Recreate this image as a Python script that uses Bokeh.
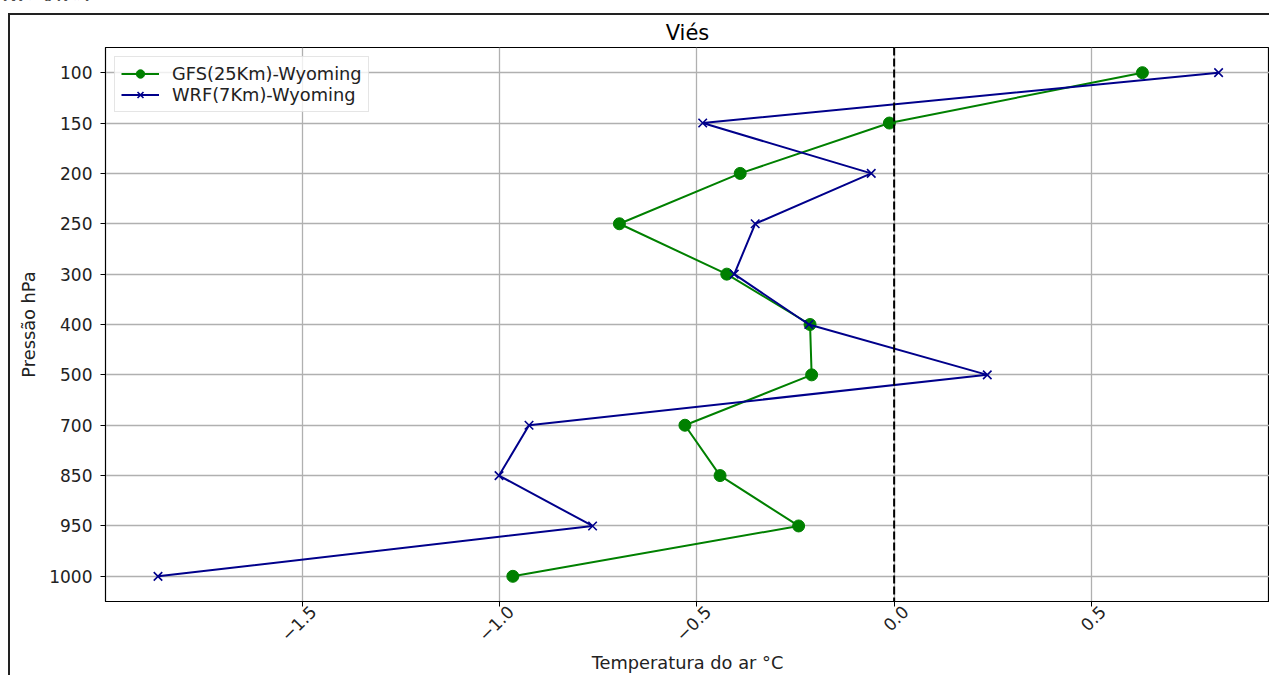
import math
from bokeh.plotting import figure
from bokeh.models import (FactorRange, Range1d, FixedTicker, CustomJSTickFormatter,
                          Span, Legend, LegendItem, LinearAxis, InlineStyleSheet)
from bokeh.embed import file_html
from bokeh.resources import INLINE

# ---- data ----
levels = ["100", "150", "200", "250", "300", "400", "500", "700", "850", "950", "1000"]
gfs_bias = [0.629, -0.012, -0.390, -0.696, -0.424, -0.213, -0.209, -0.530, -0.441, -0.242, -0.966]
wrf_bias = [0.822, -0.485, -0.058, -0.352, -0.405, -0.216, 0.236, -0.925, -1.001, -0.764, -1.865]
x_ticks = [-1.5, -1.0, -0.5, 0.0, 0.5]

suptitle_text = "de Viés"
title_text = "Viés"
x_label = "Temperatura do ar °C"
y_label = "Pressão hPa"
gfs_name = "GFS(25Km)-Wyoming"
wrf_name = "WRF(7Km)-Wyoming"

FONT = "DejaVu Sans"
X0, X1 = -1.998, 0.951
LABEL_SHIFT = 0.028   # centring offset of the rotated tick labels (style only)

p = figure(width=1269, height=675, output_backend="svg", toolbar_location=None,
           x_range=Range1d(X0, X1),
           y_range=FactorRange(factors=list(reversed(levels))),
           min_border_left=105, min_border_right=0, min_border_top=47, min_border_bottom=74)

p.title.text = title_text
p.title.align = "center"
p.title.text_font = FONT
p.title.text_font_size = "21px"
p.title.text_font_style = "normal"
p.title.text_color = "#000000"
p.title.standoff = 5

p.outline_line_color = "#000000"
p.outline_line_width = 1.2
p.background_fill_color = "#ffffff"
p.border_fill_color = "#ffffff"

# grid
for g in (p.xgrid, p.ygrid):
    g.grid_line_color = "#b0b0b0"
    g.grid_line_width = 1.3
p.xgrid.ticker = FixedTicker(ticks=x_ticks)

# primary x axis: tick marks only
xa = p.xaxis[0]
xa.ticker = FixedTicker(ticks=x_ticks)
xa.formatter = CustomJSTickFormatter(code="return '';")
xa.major_label_text_font_size = "0px"
xa.major_label_standoff = 0
xa.minor_tick_line_color = None
xa.axis_line_color = "#000000"
xa.major_tick_line_color = "#000000"
xa.major_tick_in = 0
xa.major_tick_out = 5

# secondary x axis: the rotated labels, centred under the ticks
p.extra_x_ranges = {"lab": Range1d(X0 - LABEL_SHIFT, X1 - LABEL_SHIFT)}
xl = LinearAxis(x_range_name="lab", ticker=FixedTicker(ticks=x_ticks),
                formatter=CustomJSTickFormatter(code="return tick.toFixed(1).replace('-', '\u2212');"))
xl.major_label_orientation = math.pi / 4
xl.axis_line_color = None
xl.major_tick_line_color = None
xl.minor_tick_line_color = None
xl.major_tick_in = 0
xl.major_tick_out = 0
xl.major_label_standoff = 2
xl.major_label_text_font = FONT
xl.major_label_text_font_size = "17px"
xl.major_label_text_color = "#222222"
xl.axis_label = x_label
xl.axis_label_text_font = FONT
xl.axis_label_text_font_size = "17.8px"
xl.axis_label_text_font_style = "normal"
xl.axis_label_text_color = "#222222"
xl.axis_label_standoff = 2
p.add_layout(xl, "below")

ya = p.yaxis[0]
ya.axis_line_color = "#000000"
ya.major_tick_line_color = "#000000"
ya.major_tick_in = 0
ya.major_tick_out = 5
ya.major_label_text_font = FONT
ya.major_label_text_font_size = "17px"
ya.major_label_text_color = "#222222"
ya.major_label_standoff = 8
ya.axis_label = y_label
ya.axis_label_text_font = FONT
ya.axis_label_text_font_size = "17.8px"
ya.axis_label_text_font_style = "normal"
ya.axis_label_text_color = "#222222"
ya.axis_label_standoff = 7

# zero line
p.add_layout(Span(location=0, dimension="height", line_color="#000000",
                  line_width=2, line_dash="8 3"))

# series
g_line = p.line(gfs_bias, levels, line_color="green", line_width=2)
g_mark = p.scatter(gfs_bias, levels, marker="circle", size=12, fill_color="green", line_color="green")
w_line = p.line(wrf_bias, levels, line_color="darkblue", line_width=2)
w_mark = p.scatter(wrf_bias, levels, marker="x", size=12, line_color="darkblue", line_width=1.6)

legend = Legend(items=[LegendItem(label=gfs_name, renderers=[g_line, g_mark]),
                       LegendItem(label=wrf_name, renderers=[w_line, w_mark])],
                location="top_left")
legend.label_text_font = FONT
legend.label_text_font_size = "17.8px"
legend.label_text_color = "#222222"
legend.border_line_color = "#cccccc"
legend.border_line_width = 1
legend.background_fill_alpha = 0.8
legend.padding = 6
legend.spacing = 0
legend.margin = 9
legend.label_height = 21
legend.glyph_height = 21
legend.glyph_width = 38
legend.label_standoff = 13
p.add_layout(legend)

# outer figure frame and the clipped figure super-title of the original screenshot
css = (":host::after{content:''; position:absolute; left:8px; top:13px; right:0; bottom:0;"
       " border-left:2px solid #222; border-top:2px solid #222; pointer-events:none;}"
       ":host::before{content:'" + suptitle_text + "'; position:absolute; left:2px; top:-16px;"
       " font-family:'DejaVu Sans'; font-size:24px; line-height:24px; color:#111; pointer-events:none;}")
p.stylesheets = [InlineStyleSheet(css=css)]

open("out.html", "w").write(file_html(p, INLINE))
